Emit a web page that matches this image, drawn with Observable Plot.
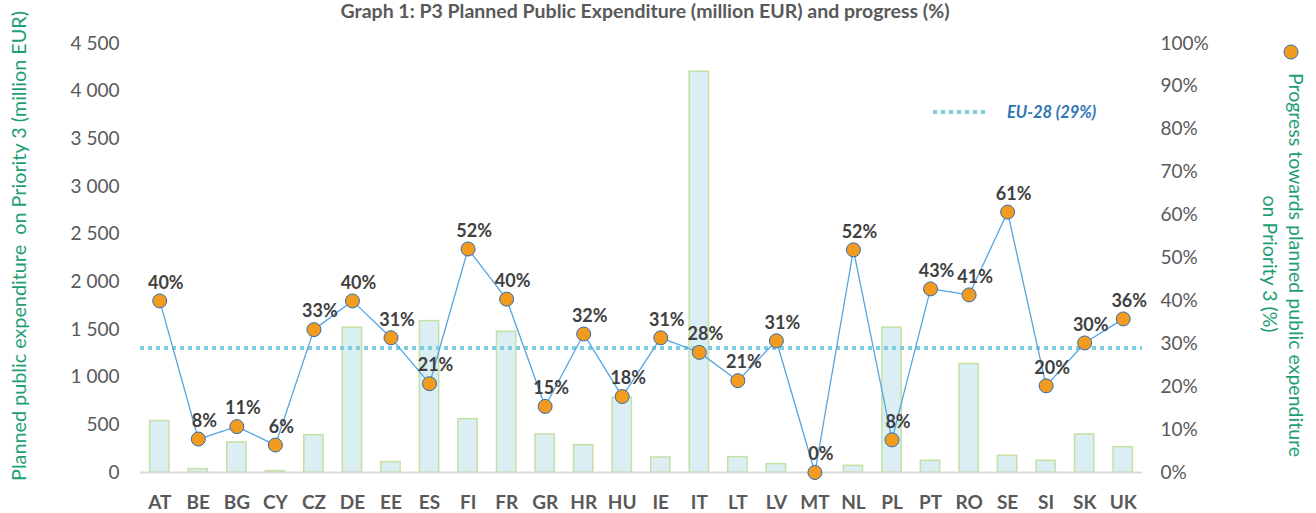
<!DOCTYPE html>
<html>
<head>
<meta charset="utf-8">
<script src="https://cdn.jsdelivr.net/npm/d3@7"></script>
<script src="https://cdn.jsdelivr.net/npm/@observablehq/plot@0.6"></script>
<style>
  html, body { margin: 0; padding: 0; background: #fff; }
  #chart { position: relative; width: 1316px; height: 513px; overflow: hidden; }
</style>
</head>
<body>
<div id="chart"></div>
<script>
// ---- Data ----
const countries = ["AT","BE","BG","CY","CZ","DE","EE","ES","FI","FR","GR","HR","HU","IE","IT","LT","LV","MT","NL","PL","PT","RO","SE","SI","SK","UK"];
const expenditure = [540, 35, 315, 15, 392, 1520, 109, 1588, 560, 1476, 399, 287, 786, 157, 4204, 161, 88, 0, 70, 1520, 123, 1138, 175, 123, 399, 266];
const progress = [40.0, 7.8, 10.7, 6.4, 33.3, 40.0, 31.4, 20.7, 52.1, 40.4, 15.4, 32.3, 17.7, 31.4, 28.0, 21.4, 30.7, 0.0, 51.9, 7.6, 42.8, 41.4, 60.7, 20.2, 30.2, 35.8];
const euAverage = 29;
const leftTicks = [0, 500, 1000, 1500, 2000, 2500, 3000, 3500, 4000, 4500];
const rightTicks = [0, 10, 20, 30, 40, 50, 60, 70, 80, 90, 100];

const titleText = "Graph 1: P3 Planned Public Expenditure (million EUR) and progress (%)";
const leftTitle = "Planned public expenditure  on Priority 3 (million EUR)";
const rightTitle1 = "Progress towards planned public expenditure";
const rightTitle2 = "on Priority 3 (%)";
const euLabel = "EU-28 (29%)";

// ---- Derived table ----
const yMax = 4500;
const k = yMax / 100; // percent -> left-axis units
const rows = countries.map((c, i) => ({country: c, exp: expenditure[i], pct: progress[i], py: progress[i] * k}));

const green = "#1e9e74";
const orange = "#F29B1E";
const dotStroke = "#2E6DB4";
const font = "Lato, 'Open Sans', sans-serif";

const plot = Plot.plot({
  width: 1316,
  height: 513,
  marginLeft: 140,
  marginRight: 174,
  marginTop: 43,
  marginBottom: 41,
  style: {fontFamily: font, fontSize: "19px", color: "#595959", background: "#fff"},
  x: {domain: countries, paddingInner: 0.5, paddingOuter: 0.25, round: false, label: null},
  y: {domain: [0, yMax], label: null},
  marks: [
    Plot.barY(rows, {x: "country", y: "exp", fill: "#DAEEF3", stroke: "#C4E0A2", strokeWidth: 1.5}),
    Plot.ruleY([0], {stroke: "#D9D9D9", strokeWidth: 2}),
    Plot.ruleY([euAverage * k], {stroke: "#7ECEE2", strokeWidth: 4, strokeDasharray: "4,4"}),
    Plot.line(rows, {x: "country", y: "py", stroke: "#55A5E0", strokeWidth: 1.3}),
    Plot.dot(rows, {x: "country", y: "py", r: 7, fill: orange, stroke: dotStroke, strokeWidth: 1}),
    Plot.text(rows, {x: "country", y: "py", text: d => `${Math.round(d.pct)}%`, dx: 6, dy: -18,
      fontWeight: "bold", fontSize: 18, fill: "#404040"}),
    Plot.axisY({anchor: "left", ticks: leftTicks, tickSize: 0, tickPadding: 21,
      tickFormat: d => d3.format(",")(d).replace(/,/g, " "), label: null, fontSize: 19}),
    Plot.axisY({anchor: "right", ticks: rightTicks.map(v => v * k), tickSize: 0, tickPadding: 18,
      tickFormat: d => `${Math.round(d / k)}%`, label: null, fontSize: 19}),
    Plot.axisX({anchor: "bottom", tickSize: 0, tickPadding: 23, fontWeight: "bold", fontSize: 19, label: null})
  ]
});

document.getElementById("chart").appendChild(plot);

// ---- Annotations (titles, legends) ----
const svg = d3.select(plot);

svg.append("text")
  .attr("x", 645).attr("y", 18)
  .attr("text-anchor", "middle")
  .attr("font-family", font).attr("font-size", 19.5).attr("font-weight", "bold")
  .attr("fill", "#595959")
  .text(titleText);

svg.append("text")
  .attr("transform", "translate(18,246) rotate(-90)")
  .attr("text-anchor", "middle").attr("dominant-baseline", "central")
  .attr("font-family", font).attr("font-size", 19.8)
  .attr("fill", green)
  .text(leftTitle);

svg.append("text")
  .attr("transform", "translate(1296,265) rotate(90)")
  .attr("text-anchor", "middle").attr("dominant-baseline", "central")
  .attr("font-family", font).attr("font-size", 19.5)
  .attr("fill", green)
  .text(rightTitle1);

svg.append("text")
  .attr("transform", "translate(1270,264) rotate(90)")
  .attr("text-anchor", "middle").attr("dominant-baseline", "central")
  .attr("font-family", font).attr("font-size", 19.5)
  .attr("fill", green)
  .text(rightTitle2);

svg.append("circle")
  .attr("cx", 1291).attr("cy", 52).attr("r", 7)
  .attr("fill", orange).attr("stroke", dotStroke).attr("stroke-width", 1);

svg.append("line")
  .attr("x1", 933).attr("x2", 989).attr("y1", 112).attr("y2", 112)
  .attr("stroke", "#7ECEE2").attr("stroke-width", 4).attr("stroke-dasharray", "4,4");

svg.append("text")
  .attr("x", 1007).attr("y", 112)
  .attr("text-anchor", "start").attr("dominant-baseline", "central")
  .attr("font-family", font).attr("font-size", 16.5).attr("font-weight", "bold").attr("font-style", "italic")
  .attr("fill", "#2E75B6")
  .text(euLabel);
</script>
</body>
</html>
